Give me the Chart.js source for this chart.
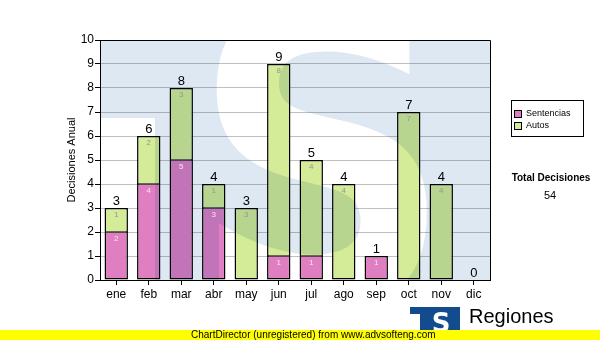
<!DOCTYPE html>
<html>
<head>
<meta charset="utf-8">
<title>Decisiones Anual</title>
<script src="https://cdn.jsdelivr.net/npm/chart.js@4.4.1/dist/chart.umd.min.js"></script>
<style>
  html, body { margin: 0; padding: 0; background: #fff; }
  #wrap { width: 600px; height: 340px; position: relative; }
</style>
</head>
<body>
<div id="wrap"><canvas id="grafico" width="600" height="340"></canvas></div>
<script>
// datos por mes
const meses = ['ene', 'feb', 'mar', 'abr', 'may', 'jun', 'jul', 'ago', 'sep', 'oct', 'nov', 'dic'];
const sentencias = [2, 4, 5, 3, 0, 1, 1, 0, 1, 0, 0, 0];
const autos = [1, 2, 3, 1, 3, 8, 4, 4, 0, 7, 4, 0];
const yMax = 10;
const yPaso = 1;

const rosa = '#df7fc2';
const verde = '#d4eb98';
const azulMarca = '#dde8f2';
const FUENTE = '"Liberation Sans", Arial, sans-serif';

const totales = meses.map((m, i) => sentencias[i] + autos[i]);
const totalDecisiones = totales.reduce((a, b) => a + b, 0);

// bordes: la linea entre segmentos se reparte entre los dos
const bordeRosa = c => ({ left: 1.5, right: 1.5, bottom: 1.5, top: autos[c.dataIndex] > 0 ? 0.75 : 1.5 });
const bordeVerde = c => ({ left: 1.5, right: 1.5, top: 1.5, bottom: sentencias[c.dataIndex] > 0 ? 0.75 : 1.5 });

// logo de fondo (bloque azul con la S en blanco), se multiplica sobre las barras
function dibujarMarca(ctx, area) {
    const off = document.createElement('canvas');
    off.width = 600; off.height = 340;
    const o = off.getContext('2d');
    o.fillStyle = '#fff';
    o.fillRect(0, 0, 600, 340);
    o.fillStyle = azulMarca;
    o.fillRect(area.left, area.top, area.right - area.left, area.bottom - area.top);
    o.fillStyle = '#fff';
    o.fillRect(area.left, 118, 55, area.bottom - 118);
    o.save();
    o.translate(322, 0);
    o.scale(0.87, 1);
    o.font = 'bold 420px "DejaVu Sans"';
    o.textAlign = 'center';
    o.textBaseline = 'alphabetic';
    o.fillText('S', 0, 306);
    o.restore();

    ctx.save();
    ctx.beginPath();
    ctx.rect(area.left, area.top, area.right - area.left, area.bottom - area.top);
    ctx.clip();
    ctx.globalCompositeOperation = 'multiply';
    ctx.drawImage(off, 0, 0);
    ctx.restore();
}

const pluginFondo = {
    id: 'fondo',
    beforeDraw(chart) {
        const ctx = chart.ctx;
        ctx.save();
        ctx.fillStyle = '#fff';
        ctx.fillRect(0, 0, chart.width, chart.height);
        ctx.restore();
    },
    afterDatasetsDraw(chart) {
        const ctx = chart.ctx;
        const a = chart.chartArea;
        dibujarMarca(ctx, a);

        // marco superior y derecho del area
        ctx.save();
        ctx.strokeStyle = '#000';
        ctx.lineWidth = 1;
        ctx.beginPath();
        ctx.moveTo(a.left, a.top + 0.5);
        ctx.lineTo(a.right + 0.5, a.top + 0.5);
        ctx.lineTo(a.right + 0.5, a.bottom);
        ctx.stroke();

        // valores dentro de cada segmento
        ctx.font = '8px ' + FUENTE;
        ctx.textAlign = 'center';
        ctx.textBaseline = 'middle';
        chart.data.datasets.forEach((ds, d) => {
            const meta = chart.getDatasetMeta(d);
            meta.data.forEach((el, i) => {
                if (!ds.data[i]) return;
                ctx.fillStyle = d === 0 ? '#f6e6f2' : '#959595';
                ctx.fillText(String(ds.data[i]), el.x, el.y + 7);
            });
        });

        // totales encima de cada columna
        const y = chart.scales.y;
        ctx.font = '13px ' + FUENTE;
        ctx.fillStyle = '#000';
        ctx.textBaseline = 'alphabetic';
        const meta = chart.getDatasetMeta(0);
        totales.forEach((t, i) => {
            ctx.fillText(String(t), meta.data[i].x, y.getPixelForValue(t) - 3);
        });
        ctx.restore();
    },
    afterDraw(chart) {
        const ctx = chart.ctx;
        const a = chart.chartArea;
        ctx.save();

        // titulo del eje Y
        ctx.translate(72, (a.top + a.bottom) / 2);
        ctx.rotate(-Math.PI / 2);
        ctx.font = '11px ' + FUENTE;
        ctx.fillStyle = '#000';
        ctx.textAlign = 'center';
        ctx.textBaseline = 'middle';
        ctx.fillText('Decisiones Anual', 0, 0);
        ctx.setTransform(1, 0, 0, 1, 0, 0);

        // leyenda
        ctx.strokeStyle = '#000';
        ctx.lineWidth = 1;
        ctx.strokeRect(511.5, 100.5, 72, 36);
        ctx.font = '9px ' + FUENTE;
        ctx.textAlign = 'left';
        chart.data.datasets.forEach((ds, d) => {
            const yy = 114 + d * 12;
            ctx.fillStyle = ds.backgroundColor;
            ctx.fillRect(514.5, yy - 3.5, 7, 7);
            ctx.strokeRect(514.5, yy - 3.5, 7, 7);
            ctx.fillStyle = '#000';
            ctx.fillText(ds.label, 526, yy);
        });

        // total del año
        ctx.textAlign = 'center';
        ctx.font = 'bold 10px ' + FUENTE;
        ctx.fillText('Total Decisiones', 551, 178);
        ctx.font = '11px ' + FUENTE;
        ctx.fillText(String(totalDecisiones), 550, 196);

        // logo
        ctx.fillStyle = '#124b8e';
        ctx.fillRect(410, 307, 50, 26);
        ctx.fillStyle = '#fff';
        ctx.fillRect(410, 314, 10, 20);
        ctx.font = 'bold 26px "DejaVu Sans"';
        ctx.textBaseline = 'alphabetic';
        ctx.fillText('S', 441, 332);
        ctx.fillStyle = '#000';
        ctx.textAlign = 'left';
        ctx.font = '20px ' + FUENTE;
        ctx.fillText('Regiones', 469, 323);
        ctx.font = '10px ' + FUENTE;
        ctx.fillText('Tribunal Supremo de Justicia', 467, 338);

        // franja de la version sin registrar
        ctx.fillStyle = '#ffff00';
        ctx.fillRect(0, 330, 600, 10);
        ctx.fillStyle = '#000';
        ctx.font = '10px ' + FUENTE;
        ctx.textBaseline = 'middle';
        ctx.fillText('ChartDirector (unregistered) from www.advsofteng.com', 191, 335.5);
        ctx.restore();
    }
};

new Chart(document.getElementById('grafico'), {
    type: 'bar',
    data: {
        labels: meses,
        datasets: [
            { label: 'Sentencias', data: sentencias, backgroundColor: rosa, borderColor: '#000', borderWidth: bordeRosa, borderSkipped: false },
            { label: 'Autos', data: autos, backgroundColor: verde, borderColor: '#000', borderWidth: bordeVerde, borderSkipped: false }
        ]
    },
    options: {
        responsive: false,
        animation: false,
        devicePixelRatio: 1,
        layout: { padding: { top: 40, right: 110, left: 0, bottom: 0 } },
        categoryPercentage: 1,
        barPercentage: 0.72,
        plugins: { legend: { display: false }, tooltip: { enabled: false } },
        scales: {
            x: {
                stacked: true,
                afterFit: s => { s.height = 60; },
                border: { color: '#000', width: 1 },
                grid: { drawOnChartArea: false, offset: false, tickLength: 5, tickColor: '#000' },
                ticks: { color: '#000', font: { family: FUENTE, size: 12 }, padding: 2 }
            },
            y: {
                stacked: true,
                min: 0,
                max: yMax,
                afterFit: s => { s.width = 100; },
                border: { color: '#000', width: 1 },
                grid: { color: '#c0c0c0', tickLength: 5, tickColor: '#000' },
                ticks: { stepSize: yPaso, color: '#000', font: { family: FUENTE, size: 12 }, padding: 1 }
            }
        }
    },
    plugins: [pluginFondo]
});
</script>
</body>
</html>
